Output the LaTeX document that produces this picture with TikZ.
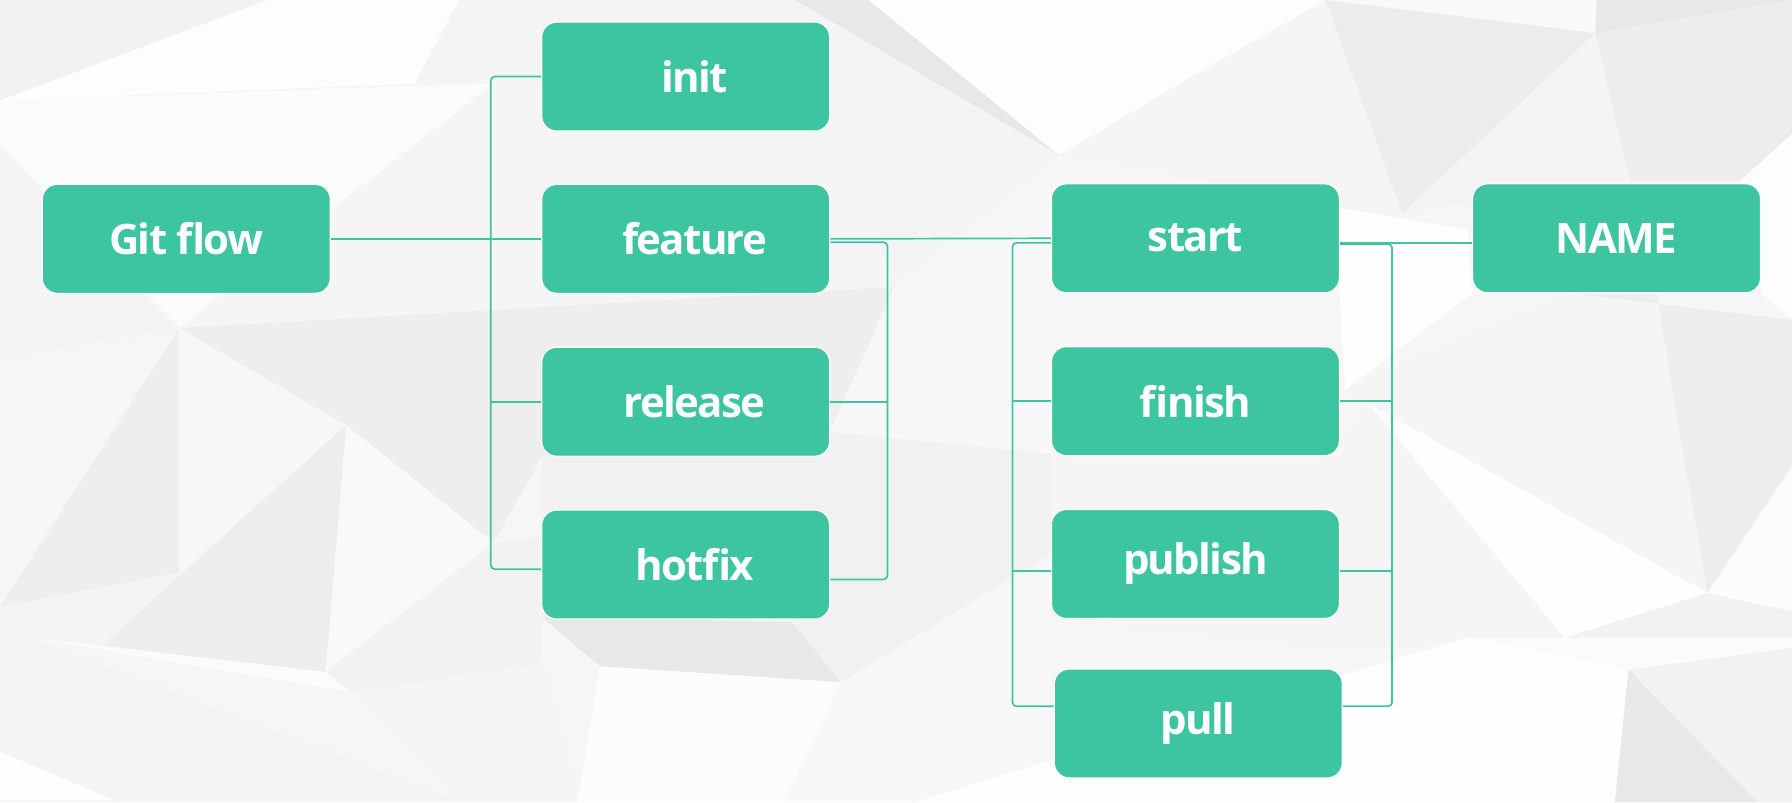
\documentclass[tikz,border=0pt]{standalone}
\usepackage{fontspec}
\setmainfont{Open Sans}
\newfontfamily\boxfont{Open Sans}[LetterSpace=-4]
\usetikzlibrary{calc}
\definecolor{teal1}{HTML}{3DC4A0}
\begin{document}
\begin{tikzpicture}[x=1.142857pt,y=-1.142857pt,
  box/.style={rectangle, rounded corners=15pt, fill=teal1, draw=white, line width=1.2pt,
    minimum width=288pt, minimum height=109pt, text=white, inner sep=0pt,
    font=\boxfont\fontsize{42}{48}\selectfont\bfseries},
  conn/.style={draw=teal1, line width=1.7pt},
  poly/.style={fill=black!#1, draw=none}]
\useasboundingbox (0,0) rectangle (1568,702);
% ---------- background (low-poly) ----------
\fill[black!3.5] (0,0) rectangle (1568,702);
\fill[poly=5] (0,0) -- (234,0) -- (0,88) -- cycle;
\fill[poly=0.8] (234,0) -- (402,0) -- (363,73) -- (0,88) -- cycle;
\fill[poly=4.5] (402,0) -- (696,0) -- (927,136) -- (783,251) -- (726,99) -- (480,70) -- (432,73) -- (363,73) -- cycle;
\fill[poly=9] (696,0) -- (760,0) -- (927,136) -- cycle;
\fill[poly=1.5] (0,88) -- (432,73) -- (157,287) -- (0,128) -- cycle;
\fill[poly=4.5] (0,128) -- (157,287) -- (0,316) -- cycle;
\fill[poly=4] (432,73) -- (480,70) -- (726,99) -- (783,251) -- (157,287) -- cycle;
\fill[poly=3.5] (0,316) -- (157,287) -- (0,531) -- cycle;
\fill[poly=6.5] (0,531) -- (157,287) -- (157,501) -- cycle;
\fill[poly=3] (157,287) -- (303,372) -- (157,501) -- cycle;
\fill[poly=6.5] (157,287) -- (783,251) -- (726,378) -- (474,400) -- (432,475) -- (303,372) -- cycle;
\fill[poly=4.5] (0,531) -- (157,501) -- (87,567) -- (29,558) -- (0,592) -- cycle;
\fill[poly=7] (87,567) -- (303,372) -- (285,588) -- (29,558) -- cycle;
\fill[poly=2.5] (303,372) -- (432,475) -- (285,588) -- cycle;
\fill[poly=1.5] (29,558) -- (285,588) -- (308,606) -- cycle;
\fill[poly=4.5] (0,592) -- (29,558) -- (402,700) -- (100,700) -- (0,658) -- cycle;
\fill[poly=0.5] (0,658) -- (100,700) -- (0,700) -- cycle;
\fill[poly=5] (285,588) -- (432,475) -- (474,470) -- (474,580) -- (308,606) -- cycle;
\fill[poly=4] (308,606) -- (474,580) -- (505,700) -- (402,700) -- cycle;
\fill[poly=5.5] (726,378) -- (920,397) -- (920,484) -- (736,597) -- (692,544) -- (726,540) -- cycle;
\fill[poly=5.5] (474,400) -- (726,400) -- (726,540) -- (474,540) -- cycle;
\fill[poly=9] (474,540) -- (692,544) -- (736,597) -- (525,583) -- cycle;
\fill[poly=1] (525,583) -- (736,597) -- (686,702) -- (505,702) -- cycle;
\fill[poly=3] (736,597) -- (920,484) -- (920,665) -- (800,702) -- (686,702) -- cycle;
\fill[poly=3] (783,251) -- (927,136) -- (1050,158) -- (920,260) -- (920,397) -- (726,378) -- cycle;
\fill[poly=0.8] (760,0) -- (1160,0) -- (1043,67) -- (927,136) -- cycle;
\fill[poly=4] (927,136) -- (1043,67) -- (1160,0) -- (1227,187) -- (1170,182) -- (1050,158) -- cycle;
\fill[poly=2.5] (1160,0) -- (1397,0) -- (1396,29) -- cycle;
\fill[poly=9] (1397,0) -- (1568,0) -- (1396,29) -- cycle;
\fill[poly=7.5] (1160,0) -- (1396,29) -- (1227,187) -- cycle;
\fill[poly=7] (1396,29) -- (1568,0) -- (1568,117) -- (1522,159) -- (1426,159) -- cycle;
\fill[poly=4.5] (1396,29) -- (1426,159) -- (1227,187) -- cycle;
\fill[poly=3.5] (1227,187) -- (1426,159) -- (1522,159) -- (1541,257) -- (1288,257) -- (1284,201) -- cycle;
\fill[poly=0.8] (1522,159) -- (1568,117) -- (1568,280) -- (1541,257) -- cycle;
\fill[poly=0.5] (1170,182) -- (1284,201) -- (1288,257) -- (1177,341) -- (1172,257) -- cycle;
\fill[poly=4] (1177,341) -- (1378,257) -- (1450,257) -- (1465,350) -- (1494,519) -- (1197,353) -- cycle;
\fill[poly=7] (1378,257) -- (1568,280) -- (1568,408) -- (1494,519) -- (1465,350) -- (1450,257) -- cycle;
\fill[poly=1] (1494,519) -- (1568,408) -- (1568,535) -- cycle;
\fill[poly=0.5] (1197,353) -- (1494,519) -- (1369,558) -- cycle;
\fill[poly=4] (1197,353) -- (1369,558) -- (1151,563) -- (1172,400) -- cycle;
\fill[poly=5] (1494,519) -- (1568,535) -- (1568,558) -- (1369,558) -- cycle;
\fill[poly=4] (1172,400) -- (1151,563) -- (920,540) -- (920,397) -- cycle;
\fill[poly=1.5] (1284,558) -- (1568,558) -- (1568,567) -- (1425,586) -- cycle;
\fill[poly=0.5] (920,665) -- (1179,589) -- (1284,558) -- (1425,586) -- (1413,702) -- (800,702) -- cycle;
\fill[poly=5] (1425,586) -- (1568,567) -- (1568,702) -- (1538,702) -- cycle;
\fill[poly=9] (1425,586) -- (1538,702) -- (1413,702) -- cycle;
% ---------- nodes ----------
\node[box] (gitflow) at (163,209) {Git flow};
\node[box] (init)    at (600,67)  {\hspace*{18pt}init};
\node[box] (feature) at (600,209) {\hspace*{18pt}feature};
\node[box] (release) at (600,351.5) {\hspace*{18pt}release};
\node[box] (hotfix)  at (600,494) {\hspace*{18pt}hotfix};
\node[box] (start)   at (1046,208.5) {start};
\node[box] (NAME)    at (1414.5,208.5) {NAME};
\node[box] (finish)  at (1046,351) {finish};
\node[box] (publish) at (1046,493.5) {publish};
\node[box] (pull)    at (1048.5,633) {pull};
% ---------- connectors ----------
\coordinate (lbA) at (430,0);
\coordinate (rbA) at (776,0);
\coordinate (lbB) at (886,0);
\coordinate (rbB) at (1218,0);
\draw[conn] (gitflow.east) -- (feature.west);
\draw[conn, rounded corners=4pt] (init.west) -| ($(hotfix.west)+(-44,4)$) -- ($(hotfix.west)+(0,4)$);
\draw[conn] (lbA |- release.west) -- (release.west);
\draw[conn] (feature.east) -- (start.west);
\draw[conn, rounded corners=4pt] ($(feature.east)+(0,3)$) -| ($(hotfix.east)+(50,13)$) -- ($(hotfix.east)+(0,13)$);
\draw[conn] (rbA |- release.east) -- (release.east);
\draw[conn, rounded corners=4pt] ($(start.west)+(0,4)$) -| ($(pull.west)+(-36,-15)$) -- ($(pull.west)+(0,-15)$);
\draw[conn] (lbB |- finish.west) -- (finish.west);
\draw[conn] ($(lbB |- publish.west)+(0,6)$) -- ($(publish.west)+(0,6)$);
\draw[conn, rounded corners=4pt] ($(start.east)+(0,5)$) -| ($(pull.east)+(43,-15)$) -- ($(pull.east)+(0,-15)$);
\draw[conn] (rbB |- finish.east) -- (finish.east);
\draw[conn] ($(rbB |- publish.east)+(0,6)$) -- ($(publish.east)+(0,6)$);
\draw[conn] ($(start.east)+(0,4)$) -- ($(NAME.west)+(0,4)$);
\end{tikzpicture}
\end{document}
